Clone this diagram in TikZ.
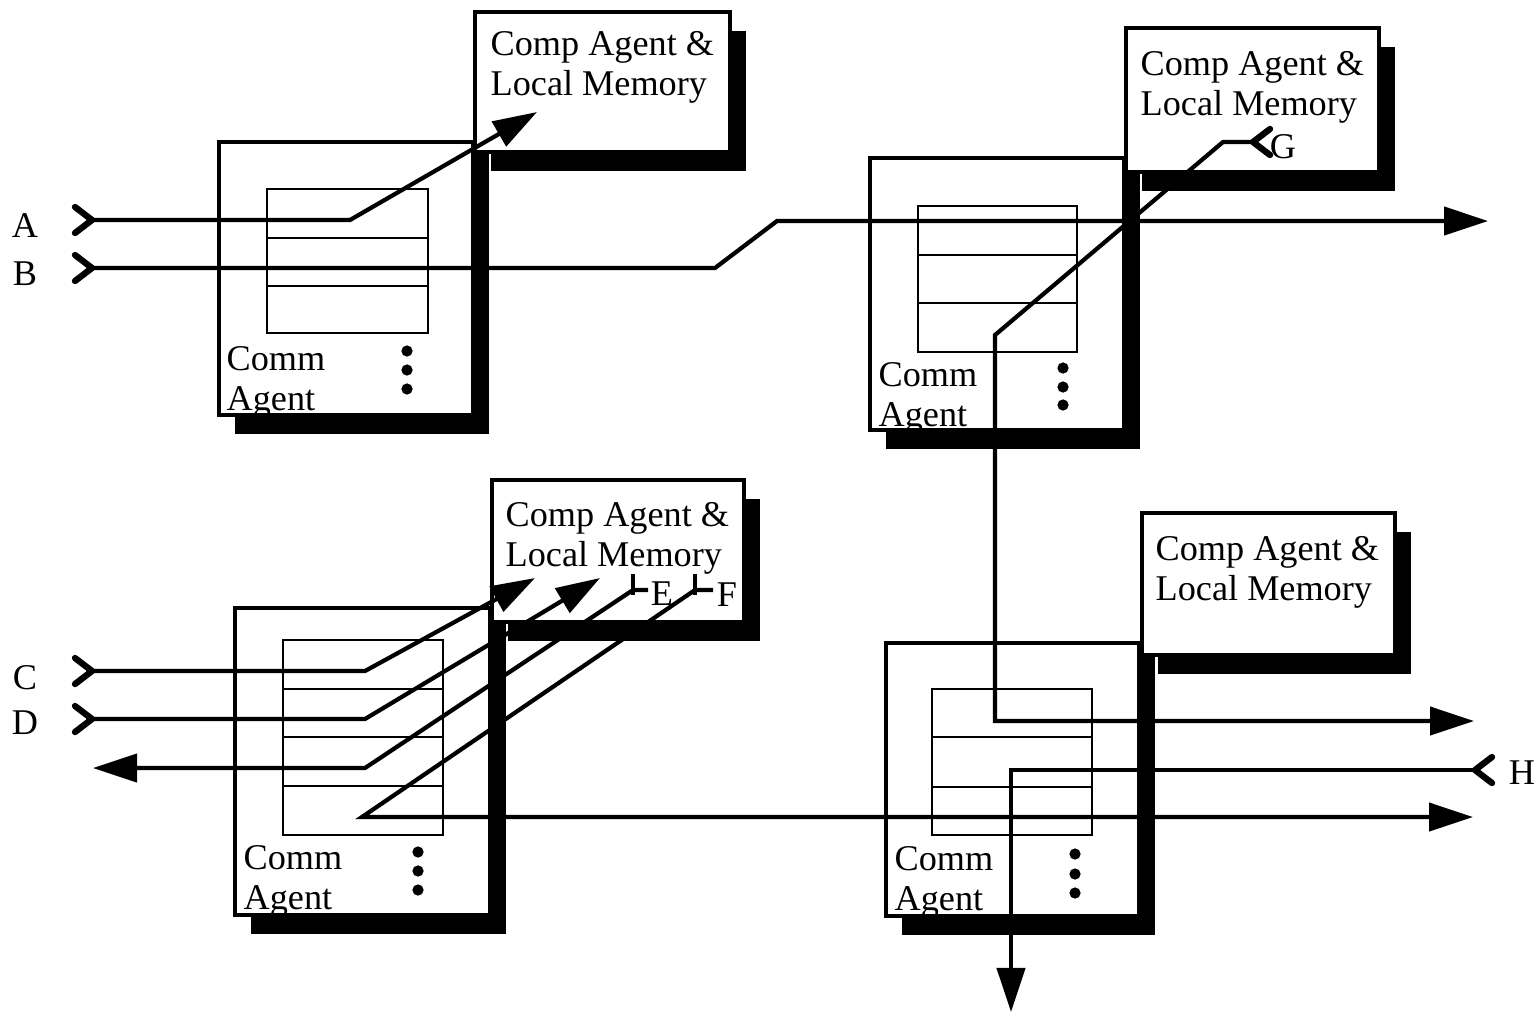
\documentclass[tikz,border=0pt]{standalone}
\usepackage{fontspec}
\setmainfont{Liberation Serif}
\usetikzlibrary{arrows.meta}

\begin{document}
\begin{tikzpicture}[x=0.01cm, y=-0.01cm,
    agentbox/.style={draw, fill=white, line width=1.2pt},
    regline/.style={line width=0.7pt},
    sig/.style={line width=1.2pt},
    sigarrow/.style={sig, -{Triangle[length=0.44cm, width=0.28cm]}},
    boxtext/.style={anchor=north west, inner sep=0pt, align=left, font=\fontsize{10.3}{11.4}\selectfont},
    lbl/.style={inner sep=0pt, font=\fontsize{10.3}{11.4}\selectfont},
    chev/.pic={\draw[line width=1.8pt, line cap=round, line join=round] (-17,13) -- (0,0) -- (-17,-13);}]
    \def\dx{16}
    \def\dy{19}

    \fill[white] (0,0) rectangle (1537,1013);

    % shadows
    \fill (475+\dx,12+\dy) rectangle (730+\dx,152+\dy);
    \fill (219+\dx,142) rectangle (473+\dx,415+\dy);
    \fill (1126+\dx,28+\dy) rectangle (1379+\dx,172+\dy);
    \fill (870+\dx,158) rectangle (1124+\dx,430+\dy);
    \fill (492+\dx,480+\dy) rectangle (744+\dx,622+\dy);
    \fill (235+\dx,608) rectangle (490+\dx,915+\dy);
    \fill (1142+\dx,513+\dy) rectangle (1395+\dx,655+\dy);
    \fill (886+\dx,643) rectangle (1139+\dx,916+\dy);

    % agents
    \draw[agentbox] (219,142) rectangle (473,415);
    \draw[agentbox] (475,12) rectangle (730,152);
    \draw[agentbox] (870,158) rectangle (1124,430);
    \draw[agentbox] (1126,28) rectangle (1379,172);
    \draw[agentbox] (235,608) rectangle (490,915);
    \draw[agentbox] (492,480) rectangle (744,622);
    \draw[agentbox] (886,643) rectangle (1139,916);
    \draw[agentbox] (1142,513) rectangle (1395,655);

    % buffers
    \draw[regline] (267,189) rectangle (428,333);
    \foreach \y in {238,286} \draw[regline] (267,\y) -- (428,\y);
    \draw[regline] (918,206) rectangle (1077,352);
    \foreach \y in {255,303} \draw[regline] (918,\y) -- (1077,\y);
    \draw[regline] (283,640) rectangle (443,835);
    \foreach \y in {689,737,786} \draw[regline] (283,\y) -- (443,\y);
    \draw[regline] (932,689) rectangle (1092,835);
    \foreach \y in {737,787} \draw[regline] (932,\y) -- (1092,\y);

    \node[boxtext] (comp1) at (490,31) {Comp Agent \&\\Local Memory};
    \node[boxtext] (comp2) at (1140,51) {Comp Agent \&\\Local Memory};
    \node[boxtext] (comp3) at (505,502) {Comp Agent \&\\Local Memory};
    \node[boxtext] (comp4) at (1155,536) {Comp Agent \&\\Local Memory};
    \node[boxtext] (comm1) at (226,346) {Comm\\Agent};
    \node[boxtext] (comm2) at (878,362) {Comm\\Agent};
    \node[boxtext] (comm3) at (243,845) {Comm\\Agent};
    \node[boxtext] (comm4) at (894,846) {Comm\\Agent};

    \foreach \y in {351,370,389} \fill (407,\y) circle (1.6pt);
    \foreach \y in {368,387,405} \fill (1063,\y) circle (1.6pt);
    \foreach \y in {852,871,890} \fill (418,\y) circle (1.6pt);
    \foreach \y in {854,874,893} \fill (1075,\y) circle (1.6pt);

    % labels
    \node[lbl] (labA) at (25,226) {A};
    \node[lbl] (labB) at (25,274) {B};
    \node[lbl] (labC) at (25,678) {C};
    \node[lbl] (labD) at (25,723) {D};
    \node[lbl] (labE) at (662,594) {E};
    \node[lbl] (labF) at (727,595) {F};
    \node[lbl] (labG) at (1283,147) {G};
    \node[lbl] (labH) at (1522,773) {H};

    % signal points
    \coordinate (A) at (92,220);
    \coordinate (Abend) at (350,220);
    \coordinate (Atip) at (537,112);
    \coordinate (B) at (92,268);
    \coordinate (Bbend) at (715,268);
    \coordinate (Bup) at (777,221);
    \coordinate (Btip) at (1488,221);
    \coordinate (C) at (92,671);
    \coordinate (Cbend) at (365,671);
    \coordinate (Ctip) at (535,578);
    \coordinate (D) at (92,719);
    \coordinate (Dbend) at (365,719);
    \coordinate (Dtip) at (600,578);
    \coordinate (E) at (648,590);
    \coordinate (Ebar) at (633,590);
    \coordinate (Ebend) at (365,768);
    \coordinate (Etip) at (93,768);
    \coordinate (F) at (713,590);
    \coordinate (Fbar) at (695,590);
    \coordinate (Fbend) at (362,817);
    \coordinate (Ftip) at (1473,817);
    \coordinate (G) at (1253,142);
    \coordinate (Gbend) at (1223,142);
    \coordinate (Gdown) at (995,335);
    \coordinate (Gturn) at (995,721);
    \coordinate (Gtip) at (1474,721);
    \coordinate (H) at (1475,770);
    \coordinate (Hbend) at (1011,770);
    \coordinate (Htip) at (1011,1012);

    \draw[sigarrow] (A) -- (Abend) -- (Atip);
    \draw[sigarrow] (B) -- (Bbend) -- (Bup) -- (Btip);
    \draw[sigarrow] (C) -- (Cbend) -- (Ctip);
    \draw[sigarrow] (D) -- (Dbend) -- (Dtip);
    \draw[sigarrow] (E) -- (Ebar) -- (Ebend) -- (Etip);
    \draw[sigarrow] (F) -- (Fbar) -- (Fbend) -- (Ftip);
    \draw[sigarrow] (G) -- (Gbend) -- (Gdown) -- (Gturn) -- (Gtip);
    \draw[sigarrow] (H) -- (Hbend) -- (Htip);

    \draw[sig] (Ebar) ++(0,-16) -- ++(0,21);
    \draw[sig] (Fbar) ++(0,-16) -- ++(0,21);

    \pic at (A) {chev};
    \pic at (B) {chev};
    \pic at (C) {chev};
    \pic at (D) {chev};
    \pic[rotate=180] at (G) {chev};
    \pic[rotate=180] at (H) {chev};
\end{tikzpicture}
\end{document}
